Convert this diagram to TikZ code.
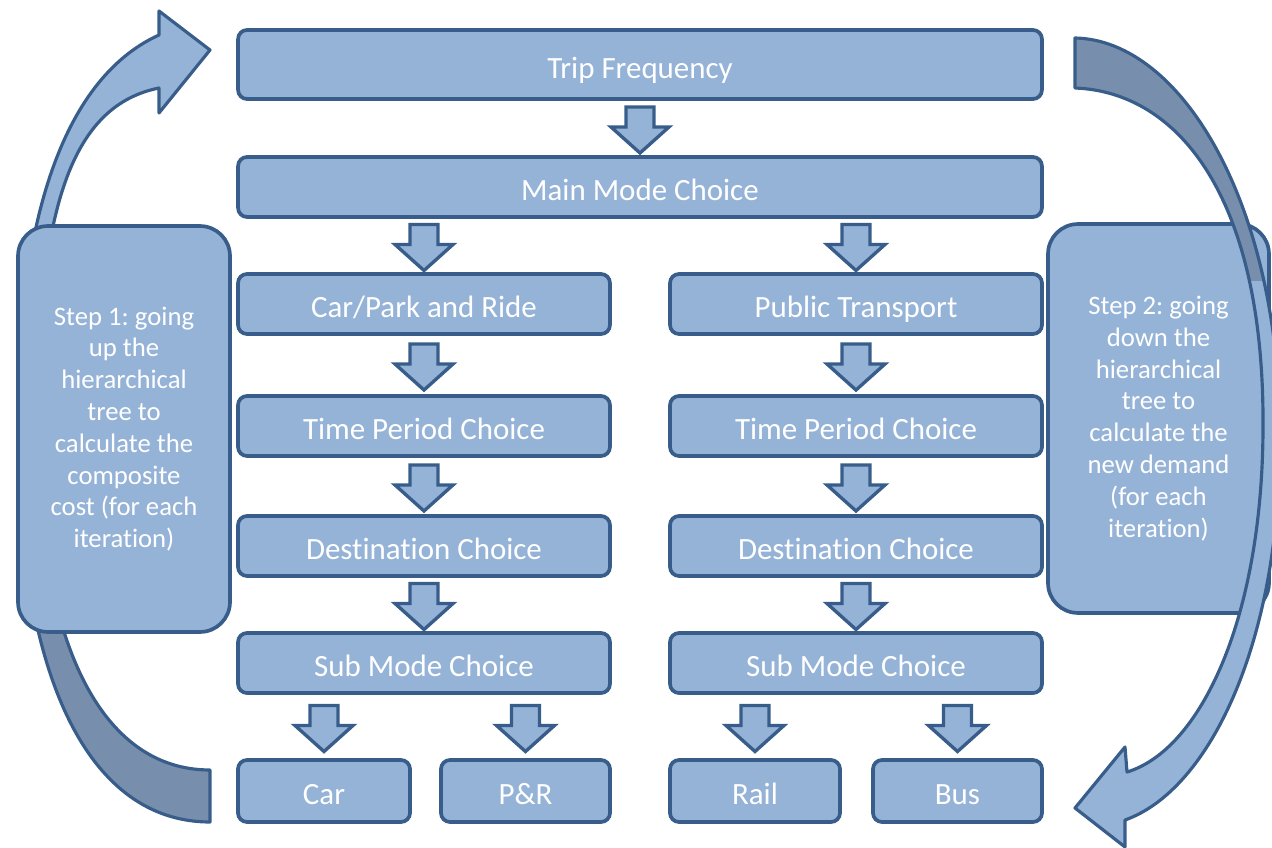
\documentclass[tikz,border=0pt]{standalone}
\usepackage{fontspec}
\setmainfont{Carlito}[Ligatures=NoCommon]
\frenchspacing
\usetikzlibrary{calc}
\definecolor{bfill}{HTML}{95B3D7}
\definecolor{bline}{HTML}{385D8A}
\definecolor{bdark}{HTML}{778FAC}
\tikzset{
  basebox/.style={draw=bline, fill=bfill, line width=2.1pt, rounded corners=0.18cm,
    text=white, inner sep=0pt, outer sep=0pt},
  box/.style={basebox, font=\fontsize{17.6}{20}\selectfont, text height=15.5pt, text depth=0pt},
  mainbox/.style={box, minimum width=7.44cm, minimum height=1.2cm},
  leafbox/.style={box, minimum height=1.24cm},
  sidebox/.style={basebox, rounded corners=0.6cm, font=\fontsize{15.2}{18.1}\selectfont, align=center},
  barrow/.style={draw=bline, fill=bfill, line width=1.9pt, line join=miter},
  carrow/.style={draw=bline, line width=1.8pt, line join=round}
}
\newcommand\blockarrow[2]{%
  \coordinate (bamid) at ($(#1.south)!0.5!(#2.north)$);
  \begin{scope}[shift={(#2.north |- bamid)}]
    \draw[barrow] (-14,-21) -- (14,-21) -- (14,-1) -- (29,-1) -- (0,25) -- (-29,-1) -- (-14,-1) -- cycle;
  \end{scope}}
\newcommand\leftcurvepath{(210,822) .. controls (90,822) and (18,680) .. (18,430) .. controls (16,230) and (60,80) .. (159,35) -- (159,11) -- (210,50) -- (159,113) -- (159,88) .. controls (75,105) and (36,200) .. (38,430) .. controls (38,640) and (100,770) .. (210,770) -- cycle}
\newcommand\rightcurvepath{(1075,38) .. controls (1180,40) and (1278,200) .. (1280,430) .. controls (1282,640) and (1210,790) .. (1125,820) -- (1125,847) -- (1075,808) -- (1125,747) -- (1127,772) .. controls (1200,750) and (1262,620) .. (1263,430) .. controls (1265,200) and (1180,92) .. (1075,88) -- cycle}
\begin{document}
\begin{tikzpicture}[x=0.02cm, y=-0.02cm]
\clip (0,0) rectangle (1272,848);
% left curved arrow (behind the left box)
\fill[bfill] \leftcurvepath;
\begin{scope}
  \clip (0,430) rectangle (300,848);
  \fill[bdark] \leftcurvepath;
\end{scope}
\draw[carrow] \leftcurvepath;
% side box 1
\node[sidebox, minimum width=4.24cm, minimum height=8.12cm] (step1) at (124,429)
  {Step 1: going\\up the\\hierarchical\\tree to\\calculate the\\composite\\cost (for each\\iteration)};
% central boxes
\node[box, minimum width=16.08cm, minimum height=1.38cm] (trip) at (640,64.5) {Trip Frequency};
\node[box, minimum width=16.08cm, minimum height=1.2cm] (main) at (640,187) {Main Mode Choice};
\node[mainbox] (cpr) at (424,304) {Car/Park and Ride};
\node[mainbox] (pt) at (856,304) {Public Transport};
\node[mainbox] (tpc1) at (424,426) {Time Period Choice};
\node[mainbox] (tpc2) at (856,426) {Time Period Choice};
\node[mainbox] (dest1) at (424,546) {Destination Choice};
\node[mainbox] (dest2) at (856,546) {Destination Choice};
\node[mainbox] (sub1) at (424,663) {Sub Mode Choice};
\node[mainbox] (sub2) at (856,663) {Sub Mode Choice};
\node[leafbox, minimum width=3.44cm] (car) at (324,791) {Car};
\node[leafbox, minimum width=3.38cm] (pr) at (525.5,791) {P\&R};
\node[leafbox, minimum width=3.40cm] (rail) at (755,791) {Rail};
\node[leafbox, minimum width=3.38cm] (bus) at (957.5,791) {Bus};
% block arrows
\blockarrow{trip}{main}
\blockarrow{main}{cpr}
\blockarrow{main}{pt}
\blockarrow{cpr}{tpc1}
\blockarrow{pt}{tpc2}
\blockarrow{tpc1}{dest1}
\blockarrow{tpc2}{dest2}
\blockarrow{dest1}{sub1}
\blockarrow{dest2}{sub2}
\blockarrow{sub1}{car}
\blockarrow{sub1}{pr}
\blockarrow{sub2}{rail}
\blockarrow{sub2}{bus}
% side box 2
\node[sidebox, minimum width=4.42cm, minimum height=7.78cm] (step2) at (1158.5,418.5)
  {Step 2: going\\down the\\hierarchical\\tree to\\calculate the\\new demand\\(for each\\iteration)};
% right curved arrow (over the right box)
\fill[bfill] \rightcurvepath;
\begin{scope}
  \clip (1000,0) rectangle (1272,280);
  \fill[bdark] \rightcurvepath;
\end{scope}
\draw[carrow] \rightcurvepath;
\end{tikzpicture}
\end{document}
